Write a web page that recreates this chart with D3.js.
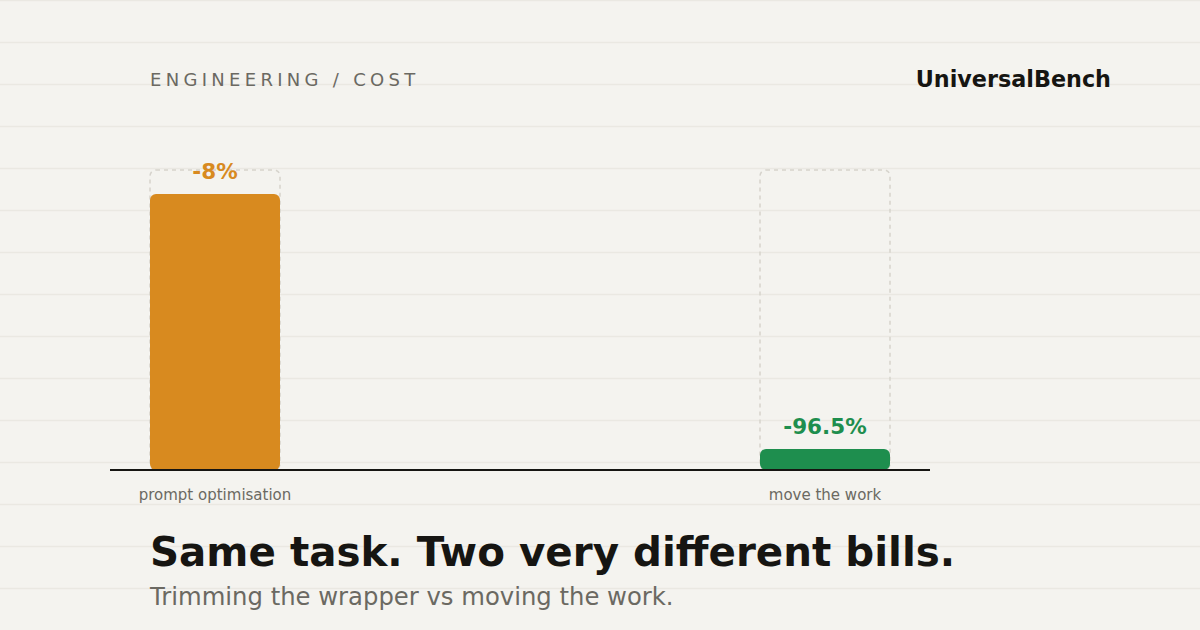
<!DOCTYPE html>
<html><head><meta charset="utf-8">
<script src="https://cdn.jsdelivr.net/npm/d3@7/dist/d3.min.js"></script>
<style>
html,body{margin:0;padding:0;background:#f4f3ef;}
svg{display:block;font-family:"DejaVu Sans",sans-serif;}
</style></head>
<body>
<svg id="c" width="1200" height="630"></svg>
<script>
const categories = ["prompt optimisation", "move the work"];
const changePct = [-8, -96.5];
const changeLabels = ["-8%", "-96.5%"];
const barColors = ["#d88a1f", "#1e8e4e"];

const W = 1200, H = 630;
const svg = d3.select("#c");
svg.append("rect").attr("width", W).attr("height", H).attr("fill", "#f4f3ef");

// background rules
svg.append("g").selectAll("line").data(d3.range(0, H, 42)).join("line")
  .attr("x1", 0).attr("x2", W).attr("y1", d => d + 0.5).attr("y2", d => d + 0.5)
  .attr("stroke", "#eae8e2").attr("stroke-width", 1.5);

const x = d3.scalePoint().domain(categories).range([215, 825]);
const y = d3.scaleLinear().domain([0, 100]).range([470, 170]);
const bw = 130;
const minH = 21;

const g = svg.append("g");
// full-cost ghost boxes
g.selectAll("rect.ghost").data(categories).join("rect")
  .attr("class", "ghost")
  .attr("x", d => x(d) - bw / 2).attr("y", y(100))
  .attr("width", bw).attr("height", y(0) - y(100))
  .attr("rx", 6)
  .attr("fill", "none").attr("stroke", "#d6d3cc").attr("stroke-width", 1.5)
  .attr("stroke-dasharray", "4,4");

const remain = changePct.map(v => 100 + v);
const barTop = (v) => Math.min(y(v), y(0) - minH);
g.selectAll("rect.bar").data(categories).join("rect")
  .attr("class", "bar")
  .attr("x", d => x(d) - bw / 2)
  .attr("y", (d, i) => barTop(remain[i]))
  .attr("width", bw)
  .attr("height", (d, i) => y(0) - barTop(remain[i]))
  .attr("rx", 6)
  .attr("fill", (d, i) => barColors[i]);

g.selectAll("text.val").data(categories).join("text")
  .attr("x", d => x(d)).attr("y", (d, i) => barTop(remain[i]) - 15)
  .attr("text-anchor", "middle").attr("font-weight", "bold").attr("font-size", 21.5)
  .attr("fill", (d, i) => barColors[i]).text((d, i) => changeLabels[i]);

// baseline
svg.append("line").attr("x1", 110).attr("x2", 930).attr("y1", y(0)).attr("y2", y(0))
  .attr("stroke", "#161512").attr("stroke-width", 2);

g.selectAll("text.cat").data(categories).join("text")
  .attr("x", d => x(d)).attr("y", 500)
  .attr("text-anchor", "middle").attr("font-size", 15).attr("fill", "#6b6962")
  .text(d => d);

// header
svg.append("text").attr("x", 150).attr("y", 86).attr("font-size", 18)
  .attr("letter-spacing", "4.3px").attr("fill", "#6b6962").text("ENGINEERING / COST");
svg.append("text").attr("x", 1111).attr("y", 87).attr("font-size", 22.3).attr("font-weight", "bold")
  .attr("text-anchor", "end").attr("fill", "#161512").text("UniversalBench");

// title
svg.append("text").attr("x", 150).attr("y", 566).attr("font-size", 40.4).attr("font-weight", "bold")
  .attr("fill", "#161512").text("Same task. Two very different bills.");
svg.append("text").attr("x", 150).attr("y", 605).attr("font-size", 24.3)
  .attr("fill", "#6b6962").text("Trimming the wrapper vs moving the work.");
</script>
</body></html>
